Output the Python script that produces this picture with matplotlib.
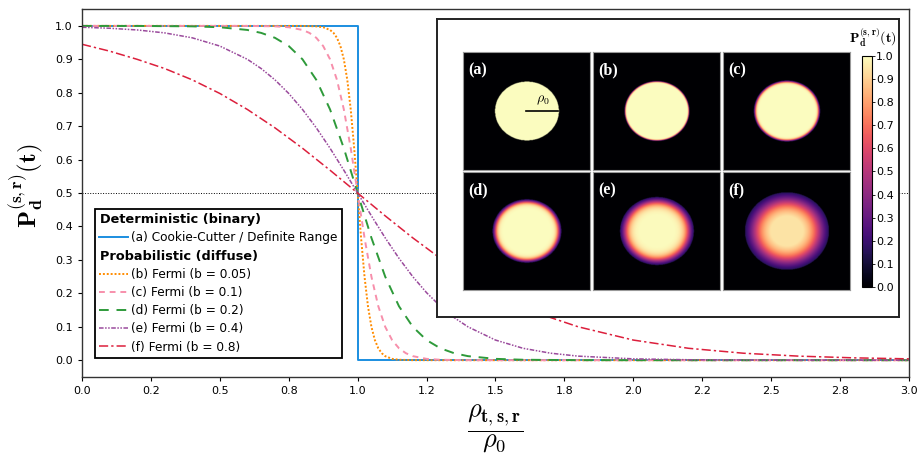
import numpy as np
import matplotlib
matplotlib.use("Agg")
from matplotlib import pyplot as plt
from matplotlib.lines import Line2D
from matplotlib.ticker import FormatStrFormatter, MultipleLocator

plt.rcParams['font.family'] = ['DejaVu Sans']
plt.rcParams['mathtext.fontset'] = 'cm'

# valeurs : P en fonction de rho / rho0
x_a = [0.0, 1.0, 1.0, 3.0]
y_a = [1.0, 1.0, 0.0, 0.0]

x_b = [0.0, 0.8, 0.85, 0.875, 0.9, 0.9125, 0.925, 0.9375, 0.95, 0.9625, 0.975, 0.9875, 1.0,
       1.0125, 1.025, 1.0375, 1.05, 1.0625, 1.075, 1.0875, 1.1, 1.125, 1.15, 1.2, 1.3, 3.0]
y_b = [1.0, 0.9999, 0.9986, 0.9959, 0.9878, 0.979, 0.9643, 0.9397, 0.9, 0.8386, 0.75, 0.634, 0.5,
       0.366, 0.25, 0.1614, 0.1, 0.0603, 0.0357, 0.021, 0.0122, 0.0041, 0.0014, 0.0001, 0.0, 0.0]

x_c = [0.0, 0.6, 0.7, 0.75, 0.8, 0.825, 0.85, 0.875, 0.9, 0.925, 0.95, 0.975, 1.0,
       1.025, 1.05, 1.075, 1.1, 1.125, 1.15, 1.175, 1.2, 1.25, 1.3, 1.4, 1.6, 3.0]
y_c = [1.0, 0.9999, 0.9986, 0.9959, 0.9878, 0.979, 0.9643, 0.9397, 0.9, 0.8386, 0.75, 0.634, 0.5,
       0.366, 0.25, 0.1614, 0.1, 0.0603, 0.0357, 0.021, 0.0122, 0.0041, 0.0014, 0.0001, 0.0, 0.0]

x_d = [0.0, 0.2, 0.4, 0.5, 0.6, 0.65, 0.7, 0.75, 0.8, 0.85, 0.9, 0.95, 1.0,
       1.05, 1.1, 1.15, 1.2, 1.25, 1.3, 1.35, 1.4, 1.5, 1.6, 1.8, 2.0, 3.0]
y_d = [0.9999, 0.9998, 0.9986, 0.9959, 0.9878, 0.979, 0.9643, 0.9397, 0.9, 0.8386, 0.75, 0.634, 0.5,
       0.366, 0.25, 0.1614, 0.1, 0.0603, 0.0357, 0.021, 0.0122, 0.0041, 0.0014, 0.0002, 0.0, 0.0]

x_e = [0.0, 0.1, 0.2, 0.3, 0.4, 0.5, 0.6, 0.65, 0.7, 0.75, 0.8, 0.85, 0.9, 0.95, 1.0,
       1.05, 1.1, 1.15, 1.2, 1.25, 1.3, 1.35, 1.4, 1.5, 1.6, 1.7, 1.8, 2.0, 2.2, 2.5, 3.0]
y_e = [0.9959, 0.9929, 0.9878, 0.979, 0.9643, 0.9397, 0.9, 0.8724, 0.8386, 0.7979, 0.75, 0.6951, 0.634, 0.5682, 0.5,
       0.4318, 0.366, 0.3049, 0.25, 0.2021, 0.1614, 0.1276, 0.1, 0.0603, 0.0357, 0.021, 0.0122, 0.0041, 0.0014, 0.0003, 0.0]

x_f = [0.0, 0.1, 0.2, 0.3, 0.4, 0.5, 0.6, 0.7, 0.8, 0.9, 1.0, 1.1, 1.2, 1.3, 1.4, 1.5, 1.6, 1.7, 1.8,
       2.0, 2.2, 2.4, 2.6, 2.8, 3.0]
y_f = [0.945, 0.9245, 0.9, 0.8724, 0.8386, 0.7979, 0.75, 0.6951, 0.634, 0.5682, 0.5, 0.4318, 0.366, 0.3049, 0.25,
       0.2021, 0.1614, 0.1276, 0.1, 0.0603, 0.0357, 0.0209, 0.0122, 0.0071, 0.0041]

seuil_vignette = 0.15

labels = ["(a) Cookie-Cutter / Definite Range", "(b) Fermi (b = 0.05)", "(c) Fermi (b = 0.1)",
          "(d) Fermi (b = 0.2)", "(e) Fermi (b = 0.4)", "(f) Fermi (b = 0.8)"]
panel_tags = ["(a)", "(b)", "(c)", "(d)", "(e)", "(f)"]

courbes = [(x_a, y_a), (x_b, y_b), (x_c, y_c), (x_d, y_d), (x_e, y_e), (x_f, y_f)]
couleurs = ['#1b8ee0', '#ff8c00', '#f78fab', '#2e9a3a', '#9a4a9c', '#dc1f3c']
styles = ['-', (0, (1, 1)), (0, (3, 2.5)), (0, (5, 4)), (0, (3, 1, 1, 1, 1, 1)), (0, (6, 2, 1.5, 2))]
epaisseurs = [1.4, 1.4, 1.4, 1.4, 1.1, 1.1]

fig = plt.figure(figsize=(9.17, 4.58), dpi=100)
ax = fig.add_axes([0.0894, 0.177, 0.9018, 0.803])

lignes = []
for (xs, ys), c, ls, lw, lab in zip(courbes, couleurs, styles, epaisseurs, labels):
    l, = ax.plot(xs, ys, color=c, linestyle=ls, linewidth=lw, label=lab)
    lignes.append(l)

ax.axhline(0.5, color='black', linestyle=':', linewidth=0.7, zorder=0)

ax.set_xlim(0, 3)
ax.set_ylim(-0.05, 1.05)
ax.xaxis.set_major_locator(MultipleLocator(0.25))
ax.xaxis.set_major_formatter(FormatStrFormatter('%.1f'))
ax.yaxis.set_major_locator(MultipleLocator(0.1))
ax.yaxis.set_major_formatter(FormatStrFormatter('%.1f'))
ax.tick_params(labelsize=8, length=3, width=0.8)
for s in ax.spines.values():
    s.set_color('#333333')
    s.set_linewidth(1.0)

ax.set_ylabel(r'$\mathbf{P_d^{(s,r)}(t)}$', fontsize=18)
ax.yaxis.set_label_coords(-0.045, 0.52)
ax.set_xlabel(r'$\dfrac{\rho_{\mathbf{t,s,r}}}{\rho_{\mathbf{0}}}$', fontsize=19, labelpad=5)

# legende avec deux titres en gras
vide = Line2D([], [], color='none')
handles = [vide, lignes[0], vide] + lignes[1:]
noms = ["Deterministic (binary)", labels[0], "Probabilistic (diffuse)"] + labels[1:]
leg = ax.legend(handles, noms, loc='upper left', bbox_to_anchor=(0.0157, 0.4565), borderaxespad=0,
                fontsize=8.7, handlelength=2.4, handletextpad=0.25, labelspacing=0.43,
                fancybox=False, framealpha=1, edgecolor='black', borderpad=0.35)
leg.get_frame().set_linewidth(1.3)
for i in (0, 2):
    t = leg.get_texts()[i]
    t.set_fontweight('bold')
    t.set_fontsize(9.3)
    t.set_position((-31, 0))

# encart
enc = fig.add_axes([0.4766, 0.3079, 0.5038, 0.6507])
enc.set_xticks([])
enc.set_yticks([])
enc.set_facecolor('white')
for s in enc.spines.values():
    s.set_color('#222222')
    s.set_linewidth(1.4)

grille = np.linspace(-2, 2, 300)
gx, gy = np.meshgrid(grille, grille)
rayon = np.sqrt(gx ** 2 + gy ** 2)

lefts = [0.5049, 0.6467, 0.7884]
bottoms = [0.6288, 0.3668]
for k, (xs, ys) in enumerate(courbes):
    r, c = divmod(k, 3)
    axi = fig.add_axes([lefts[c], bottoms[r], 0.1385, 0.2576])
    # profil radial a demi-largeur, noir sous le seuil
    img = np.interp(1 + 2 * (rayon - 1), xs, ys)
    img[img < seuil_vignette] = 0.0
    im = axi.imshow(img, cmap='magma', vmin=0, vmax=1, extent=[-2, 2, -2, 2],
                    origin='lower', aspect='auto', interpolation='bilinear')
    axi.set_xticks([])
    axi.set_yticks([])
    for s in axi.spines.values():
        s.set_color('#999999')
        s.set_linewidth(0.8)
    axi.text(0.04, 0.91, panel_tags[k], transform=axi.transAxes, color='white',
             fontsize=11.5, family='Liberation Serif', fontweight='bold', va='top', ha='left')
    if k == 0:
        axi.plot([0, 1], [0, 0], color='black', linewidth=1.2)
        axi.text(0.5, 0.12, r'$\rho_{\mathbf{0}}$', color='black', fontsize=10, ha='center', va='bottom')

cax = fig.add_axes([0.9400, 0.3734, 0.0109, 0.5044])
cb = fig.colorbar(im, cax=cax)
cb.set_ticks(np.arange(0, 1.01, 0.1))
cb.ax.yaxis.set_major_formatter(FormatStrFormatter('%.1f'))
cb.ax.tick_params(labelsize=8, length=2, width=0.6, pad=1)
cb.outline.set_linewidth(0.8)
fig.text(0.978, 1 - 38 / 458, r'$\mathbf{P_d^{(s,r)}(t)}$', fontsize=10, ha='right', va='center')

fig.savefig('out.png', dpi=100)
